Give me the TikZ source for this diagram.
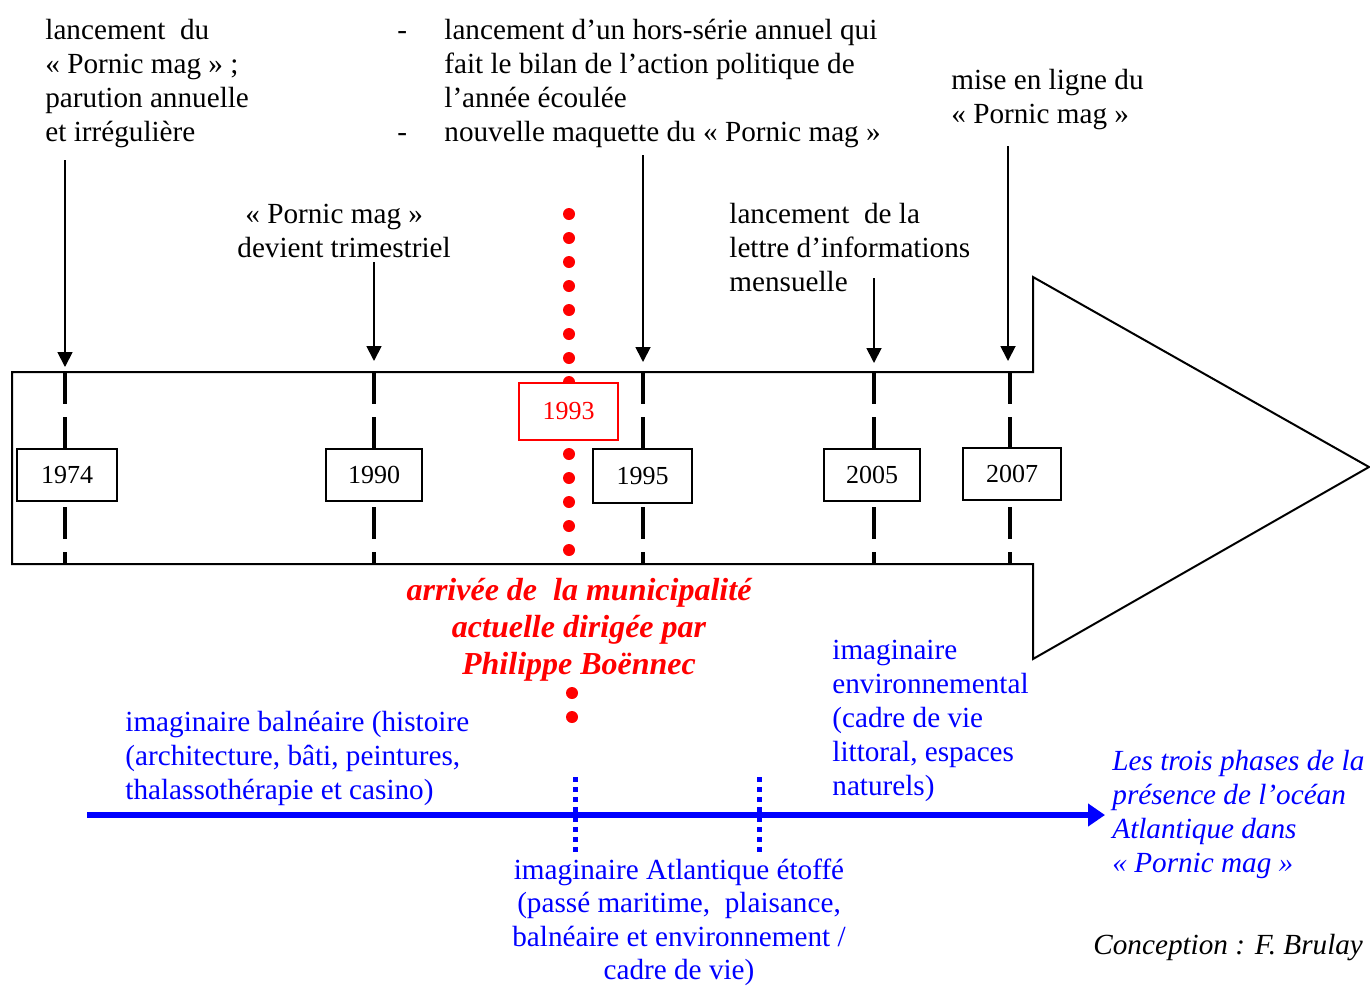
\documentclass[tikz,border=0pt]{standalone}
\usepackage{fontspec}
\setmainfont{Liberation Serif}
\usetikzlibrary{arrows.meta}
\definecolor{pred}{RGB}{255,0,0}
\definecolor{pblue}{RGB}{0,0,255}
\begin{document}
\begin{tikzpicture}[x=0.5pt,y=-0.5pt,
  txt/.style={inner sep=0pt, anchor=north west, align=left, font=\fontsize{14.6}{17}\selectfont},
  ctxt/.style={txt, anchor=north, align=center},
  redtxt/.style={inner sep=0pt, anchor=north, align=center, text=pred, font=\fontsize{16}{18.5}\selectfont\bfseries\itshape},
  bluetxt/.style={txt, text=pblue},
  yearbox/.style={draw, line width=1pt, fill=white, inner sep=0pt, minimum width=50pt, minimum height=26pt, font=\fontsize{13}{15}\selectfont},
  redbox/.style={yearbox, draw=pred, text=pred, minimum height=28.5pt},
  tickline/.style={line width=1.6pt, dash pattern=on 16pt off 6.5pt},
  pointer/.style={line width=0.9pt, -{Triangle[length=7.5pt,width=7.5pt]}},
  bigarrow/.style={line width=1pt, line join=miter},
  redpt/.style={fill=pred, draw=none},
  bluedots/.style={draw=pblue, line width=2.5pt, dash pattern=on 2.5pt off 2.5pt},
  phasearrow/.style={draw=pblue, line width=3pt, -{Triangle[length=8.5pt,width=11pt]}}
]
\useasboundingbox (0,0) rectangle (1370,986);

% big timeline arrow
\draw[bigarrow] (12,372) -- (1033,372) -- (1033,277) -- (1369,467) -- (1033,659) -- (1033,564) -- (12,564) -- cycle;

% ticks
\foreach \x in {65,374,643,874,1010}{
  \draw[tickline] (\x,372) -- (\x,564);
}

% red dots
\foreach \y in {214,238,262,286,310,334,358,382,454,478,502,526,550}{
  \fill[redpt] (569,\y) circle[radius=3pt];
}
\fill[redpt] (572,693) circle[radius=3pt];
\fill[redpt] (572,717) circle[radius=3pt];

% year boxes
\node[yearbox] (y1974) at (67,475) {1974};
\node[yearbox, minimum width=48pt] (y1990) at (374,475) {1990};
\node[yearbox, minimum width=49.5pt, minimum height=27pt] (y1995) at (642.5,476) {1995};
\node[yearbox, minimum width=48pt] (y2005) at (872,475) {2005};
\node[yearbox, minimum width=49pt] (y2007) at (1012,473.5) {2007};
\node[redbox, minimum width=49.5pt] (y1993) at (568.5,411.5) {1993};

% top texts
\node[txt] (t1974) at (45,15) {\strut lancement~ du\\« Pornic mag » ;\\parution annuelle\\et irrégulière};
\node[txt] (dashes) at (397,15) {\strut -\\~\\~\\-};
\node[txt] (t1995) at (444,15) {\strut lancement d’un hors-série annuel qui\\fait le bilan de l’action politique de\\l’année écoulée\\nouvelle maquette du « Pornic mag »};
\node[txt] (t2007) at (951,65) {\strut mise en ligne du\\« Pornic mag »};
\node[txt] (t1990) at (237,199) {\strut\hspace*{4pt}« Pornic mag »\\devient trimestriel};
\node[txt] (t2005) at (729,199) {\strut lancement~ de la\\lettre d’informations\\mensuelle};

% pointer arrows
\coordinate (s1974) at (65,160);   \coordinate (e1974) at (65,367);
\coordinate (s1990) at (374,262);  \coordinate (e1990) at (374,361);
\coordinate (s1995) at (643,155);  \coordinate (e1995) at (643,362);
\coordinate (s2005) at (874,278);  \coordinate (e2005) at (874,363);
\coordinate (s2007) at (1008,146); \coordinate (e2007) at (1008,361);
\foreach \k in {1974,1990,1995,2005,2007}{
  \draw[pointer] (s\k) -- (e\k);
}

% red caption
\node[redtxt] (mairie) at (579,574) {\strut arrivée de~ la municipalité\\actuelle dirigée par\\Philippe Boënnec};

% blue phases
\node[bluetxt] (balneaire) at (125,707) {\strut imaginaire balnéaire (histoire\\(architecture, bâti, peintures,\\thalassothérapie et casino)};
\node[bluetxt] (environ) at (832,635) {\strut imaginaire\\environnemental\\(cadre de vie\\littoral, espaces\\naturels)};
\node[ctxt, text=pblue, font=\fontsize{14.6}{16.6}\selectfont] (atlant) at (679,856) {\strut imaginaire Atlantique étoffé\\(passé maritime,~ plaisance,\\balnéaire et environnement /\\cadre de vie)};

\coordinate (pa) at (87,815);
\coordinate (pb) at (1105,815);
\draw[phasearrow] (pa) -- (pb);

\coordinate (d1a) at (575,777); \coordinate (d1b) at (575,853);
\coordinate (d2a) at (759,777); \coordinate (d2b) at (759,853);
\draw[bluedots] (d1a) -- (d1b);
\draw[bluedots] (d2a) -- (d2b);

\node[bluetxt, font=\fontsize{14.6}{17}\selectfont\itshape] (phases) at (1112,746) {\strut Les trois phases de la\\présence de l’océan\\Atlantique dans\\« Pornic mag »};

\node[inner sep=0pt, anchor=base west, font=\fontsize{14.6}{17}\selectfont\itshape] (credit) at (1093,954) {Conception : F. Brulay};
\end{tikzpicture}
\end{document}
